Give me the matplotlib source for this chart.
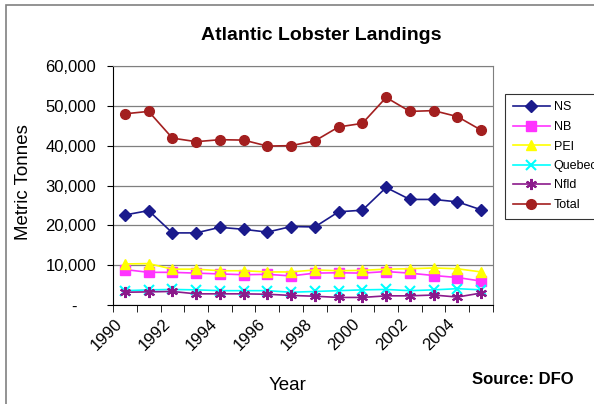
import numpy as np
import matplotlib.pyplot as plt
import matplotlib.transforms as mtransforms
from matplotlib.patches import Rectangle

plt.rcParams['font.family'] = ['Liberation Sans', 'DejaVu Sans']

# Landings in metric tonnes
years = list(range(1990, 2006))
ns = [22600, 23700, 18100, 18100, 19500, 19000, 18300, 19700, 19600, 23400, 23800, 29500, 26500, 26500, 25900, 23900]
nb = [8900, 8200, 8200, 8000, 7800, 7600, 7700, 7300, 8000, 8100, 8000, 8400, 8000, 7400, 6900, 6000]
pei = [10300, 10400, 9000, 9000, 8600, 8600, 8300, 8300, 8800, 8600, 8700, 9000, 9100, 9300, 9100, 8300]
quebec = [3600, 3800, 3900, 3800, 3600, 3600, 3600, 3200, 3400, 3600, 3800, 3900, 3600, 3800, 4100, 3800]
nfld = [3200, 3300, 3400, 2800, 2800, 2800, 2700, 2400, 2200, 1900, 1900, 2300, 2300, 2500, 2000, 3000]
total = [48000, 48600, 41900, 41000, 41500, 41400, 39900, 40000, 41200, 44700, 45600, 52100, 48600, 48800, 47300, 43900]

y_ticks = [0, 10000, 20000, 30000, 40000, 50000, 60000]
y_labels = ["-    ", "10,000", "20,000", "30,000", "40,000", "50,000", "60,000"]

series = [
    ("NS", ns, "#1a1a8c", "D", 6),
    ("NB", nb, "#ff33ff", "s", 7),
    ("PEI", pei, "#ffff00", "^", 7),
    ("Quebec", quebec, "#00ffff", "x", 7),
    ("Nfld", nfld, "#8b1a8b", (6, 2, 0), 8),
    ("Total", total, "#a31f1f", "o", 7),
]

fig = plt.figure(figsize=(5.94, 4.04), dpi=100)
fig.patches.append(Rectangle((6 / 594, -0.1), 1.2, 1 - 5 / 404 + 0.1,
                             transform=fig.transFigure, fill=False,
                             edgecolor="#808080", linewidth=1.2))

ax = fig.add_axes([113 / 594, 99 / 404, 380 / 594, 239 / 404])
x = np.arange(len(years))

for name, vals, col, mk, ms in series:
    ax.plot(x, vals, color=col, marker=mk, markersize=ms, linewidth=1.2,
            markeredgewidth=1.5 if mk in ("x", (6, 2, 0)) else 1,
            label=name, clip_on=False, zorder=3)

ax.set_xlim(-0.5, len(years) - 0.5)
ax.set_ylim(0, 60000)
ax.set_yticks(y_ticks)
ax.set_yticklabels(y_labels, fontsize=12)
ax.tick_params(axis="y", length=4, pad=8, color="black")
ax.yaxis.grid(True, color="#7f7f7f", linewidth=0.9)
ax.set_axisbelow(True)

ax.set_xticks(x[::2])
ax.set_xticklabels([str(y) for y in years[::2]], fontsize=12,
                   rotation=45, ha="right", rotation_mode="anchor")
ax.tick_params(axis="x", length=0, pad=8)
ax.set_xticks(np.arange(-0.5, len(years)), minor=True)
ax.tick_params(axis="x", which="minor", length=5, color="black")

# nudge the rotated year labels left, like the original
shift = mtransforms.ScaledTranslation(-10 / 100, 0, fig.dpi_scale_trans)
for lbl in ax.get_xticklabels():
    lbl.set_transform(lbl.get_transform() + shift)

for s in ("top", "right"):
    ax.spines[s].set_color("#7f7f7f")
for s in ("left", "bottom"):
    ax.spines[s].set_color("black")

fig.text(321 / 594, 1 - 35 / 404, "Atlantic Lobster Landings",
         fontsize=14, fontweight="bold", ha="center", va="center")
fig.text(24 / 594, 1 - 182 / 404, "Metric Tonnes", fontsize=13.5,
         rotation=90, ha="center", va="center")
fig.text(288 / 594, 1 - 386 / 404, "Year", fontsize=13.5,
         ha="center", va="center")
fig.text(523 / 594, 1 - 380 / 404, "Source: DFO", fontsize=12,
         fontweight="bold", ha="center", va="center")

leg = ax.legend(loc="upper left", bbox_to_anchor=(505 / 594, 1 - 94 / 404),
                bbox_transform=fig.transFigure, fontsize=9, handlelength=3,
                labelspacing=0.6, handletextpad=0.3, borderpad=0.6,
                frameon=True, fancybox=False, edgecolor="black",
                borderaxespad=0)
leg.get_frame().set_linewidth(0.8)

plt.savefig("out.png", dpi=100)
